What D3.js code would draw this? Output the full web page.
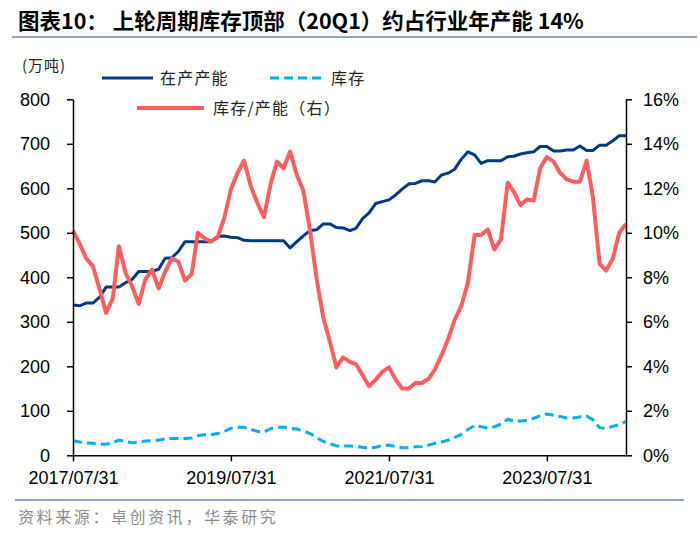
<!DOCTYPE html>
<html>
<head>
<meta charset="utf-8">
<script src="https://cdn.jsdelivr.net/npm/d3@7/dist/d3.min.js"></script>
<style>
  html, body { margin: 0; padding: 0; background: #fff; }
  svg { display: block; }
</style>
</head>
<body>
<svg id="chart" width="700" height="535"></svg>
<script>
// ---------------- DATA ----------------
const startMonth = "2017-07";           // first month-end (2017/07/31)
const endMonth = "2024-07";
const xTickLabels = ["2017/07/31", "2019/07/31", "2021/07/31", "2023/07/31"];
const leftTicks = [0, 100, 200, 300, 400, 500, 600, 700, 800];
const rightTicks = [0, 2, 4, 6, 8, 10, 12, 14, 16];

// 在产产能 (万吨), monthly
const capacity = [
  338, 336, 342, 342, 355, 378, 378, 378, 388, 395,
  413, 413, 413, 418, 443, 444, 458, 480, 480, 480,
  480, 480, 492, 493, 490, 489, 483, 482, 482, 482,
  482, 482, 482, 466, 480, 493, 505, 507, 520, 520,
  512, 511, 505, 510, 532, 545, 566, 570, 574, 585,
  598, 610, 611, 617, 617, 614, 630, 634, 643, 665,
  682, 675, 656, 662, 662, 662, 671, 672, 677, 680,
  682, 694, 694, 684, 684, 686, 686, 695, 685, 685,
  697, 697, 707, 718, 718
];
// 库存 (万吨), monthly
const inventory = [
  33, 30, 28, 27, 25, 25, 28, 34, 31, 28,
  30, 32, 33, 34, 37, 38, 38, 38, 39, 44,
  46, 46, 49, 53, 61, 63, 63, 58, 54, 52,
  60, 63, 63, 61, 59, 55, 49, 40, 31, 26,
  21, 21, 21, 20, 18, 16, 18, 22, 23, 20,
  17, 17, 19, 20, 23, 27, 30, 34, 40, 47,
  58, 67, 64, 61, 64, 70, 81, 77, 77, 78,
  83, 89, 93, 90, 87, 84, 84, 86, 88, 80,
  62, 60, 65, 69, 76
];
// 库存/产能 (%), monthly, right axis
const ratio = [
  10.1, 9.5, 8.85, 8.5, 7.5, 6.4, 7.05, 9.4, 8.2, 7.6,
  6.8, 7.9, 8.35, 7.5, 8.25, 8.85, 8.7, 7.85, 8.15, 10.0,
  9.75, 9.6, 9.8, 10.65, 11.95, 12.7, 13.25, 12.1, 11.35, 10.7,
  12.2, 13.2, 12.9, 13.65, 12.6, 11.9, 10.1, 7.9, 6.2, 5.1,
  3.95, 4.4, 4.2, 4.1, 3.6, 3.1, 3.4, 3.75, 3.95, 3.4,
  3.0, 3.0, 3.25, 3.25, 3.45, 3.85, 4.5, 5.2, 6.1, 6.7,
  7.75, 9.9, 9.9, 10.15, 9.25, 9.7, 12.25, 11.85, 11.25, 11.5,
  11.45, 12.9, 13.4, 13.2, 12.7, 12.4, 12.3, 12.3, 13.25, 11.6,
  8.6, 8.3, 8.85, 10.0, 10.4
];

// ---------------- LAYOUT ----------------
const svg = d3.select("#chart");
const margin = { left: 73, right: 74, top: 99.3, bottom: 79.7 };
const W = 700, H = 535;
const plotL = margin.left, plotR = W - margin.right;
const plotT = margin.top, plotB = H - margin.bottom;

const parseMonth = d3.timeParse("%Y-%m");
const monthEnd = m => d3.timeDay.offset(d3.timeMonth.offset(parseMonth(m), 1), -1);
const dates = d3.timeMonth.range(parseMonth(startMonth), d3.timeMonth.offset(parseMonth(endMonth), 1))
  .map(d => d3.timeDay.offset(d3.timeMonth.offset(d, 1), -1));

const x = d3.scaleTime()
  .domain([monthEnd(startMonth), monthEnd(endMonth)])
  .range([plotL, plotR]);
const yL = d3.scaleLinear().domain([0, 800]).range([plotB, plotT]);
const yR = d3.scaleLinear().domain([0, 16]).range([plotB, plotT]);

const numFont = "'Liberation Sans', Arial, sans-serif";
const cjkFont = "'Noto Sans CJK SC', 'Noto Sans', sans-serif";

// Title
svg.append("text")
  .attr("x", 18).attr("y", 29)
  .attr("font-family", cjkFont)
  .attr("font-weight", "bold")
  .attr("font-size", 21.5)
  .attr("fill", "#000")
  .text("图表10： 上轮周期库存顶部（20Q1）约占行业年产能 14%");

svg.append("line")
  .attr("x1", 12).attr("x2", 697).attr("y1", 37).attr("y2", 37)
  .attr("stroke", "#8DA4C4").attr("stroke-width", 2);

// Footer
svg.append("line")
  .attr("x1", 15).attr("x2", 684).attr("y1", 500).attr("y2", 500)
  .attr("stroke", "#8DA4C4").attr("stroke-width", 2);
svg.append("text")
  .attr("x", 18).attr("y", 523)
  .attr("font-family", cjkFont)
  .attr("font-size", 16)
  .attr("letter-spacing", 2.6)
  .attr("fill", "#8c8c8c")
  .text("资料来源：卓创资讯，华泰研究");

// Unit
svg.append("text")
  .attr("x", 22).attr("y", 71)
  .attr("font-family", cjkFont)
  .attr("font-size", 15)
  .attr("letter-spacing", 1)
  .attr("fill", "#222")
  .text("(万吨)");

// ---------------- LINES ----------------
const capLine = d3.line().x((d, i) => x(dates[i])).y(d => yL(d));
const ratioLine = d3.line().x((d, i) => x(dates[i])).y(d => yR(d));

svg.append("path")
  .datum(inventory)
  .attr("d", capLine)
  .attr("fill", "none")
  .attr("stroke", "#00AEEF")
  .attr("stroke-width", 3)
  .attr("stroke-dasharray", "9,5");

svg.append("path")
  .datum(capacity)
  .attr("d", capLine)
  .attr("fill", "none")
  .attr("stroke", "#003A80")
  .attr("stroke-width", 3)
  .attr("stroke-linejoin", "round");

svg.append("path")
  .datum(ratio)
  .attr("d", ratioLine)
  .attr("fill", "none")
  .attr("stroke", "#FF5E5E")
  .attr("stroke-width", 4)
  .attr("stroke-linejoin", "round");

// ---------------- AXES ----------------
const fmtPct = d => d + "%";

const gL = svg.append("g")
  .attr("transform", `translate(${plotL},0)`)
  .call(d3.axisLeft(yL).tickValues(leftTicks).tickSize(6).tickPadding(17).tickSizeOuter(0));
const gR = svg.append("g")
  .attr("transform", `translate(${plotR},0)`)
  .call(d3.axisRight(yR).tickValues(rightTicks).tickFormat(fmtPct).tickSize(6).tickPadding(11).tickSizeOuter(0));

const xTickDates = xTickLabels.map(s => d3.timeParse("%Y/%m/%d")(s));
const gX = svg.append("g")
  .attr("transform", `translate(0,${plotB})`)
  .call(d3.axisBottom(x).tickValues(xTickDates).tickFormat(d3.timeFormat("%Y/%m/%d")).tickSize(6).tickPadding(10).tickSizeOuter(0));

[gL, gR, gX].forEach(g => {
  g.selectAll(".domain").attr("stroke", "#000").attr("stroke-width", 1.5);
  g.selectAll(".tick line").attr("stroke", "#000").attr("stroke-width", 1.5);
  g.selectAll(".tick text")
    .attr("font-family", numFont)
    .attr("font-size", 18)
    .attr("fill", "#000");
});

// ---------------- LEGEND ----------------
const legend = [
  { label: "在产产能", x1: 102, x2: 153, y: 78, color: "#003A80", w: 3, dash: null, tx: 160 },
  { label: "库存", x1: 270, x2: 322, y: 78, color: "#00AEEF", w: 3, dash: "9,5", tx: 331 },
  { label: "库存/产能（右）", x1: 137, x2: 204, y: 108, color: "#FF5E5E", w: 4, dash: null, tx: 213 }
];
const lg = svg.append("g");
legend.forEach(l => {
  lg.append("line")
    .attr("x1", l.x1).attr("x2", l.x2).attr("y1", l.y).attr("y2", l.y)
    .attr("stroke", l.color).attr("stroke-width", l.w)
    .attr("stroke-dasharray", l.dash);
  lg.append("text")
    .attr("x", l.tx).attr("y", l.y)
    .attr("dy", "0.36em")
    .attr("font-family", cjkFont)
    .attr("font-size", 16)
    .attr("letter-spacing", 1.2)
    .attr("fill", "#222")
    .text(l.label);
});
</script>
</body>
</html>
